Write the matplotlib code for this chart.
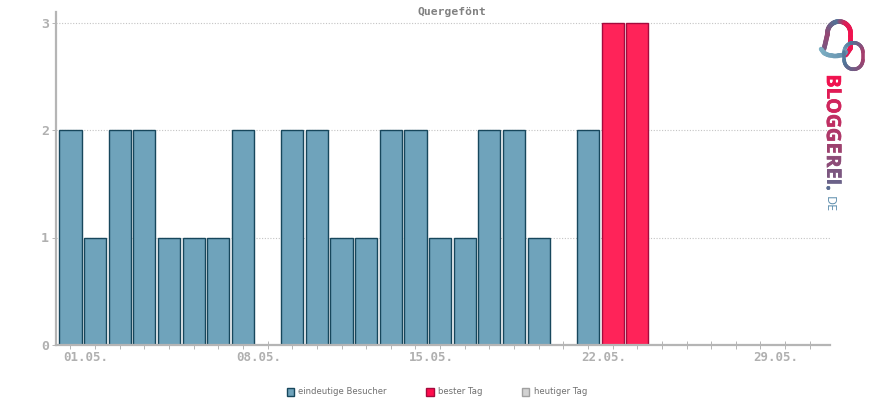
import matplotlib
matplotlib.use('Agg')
import matplotlib.pyplot as plt
import matplotlib.patheffects as pe
import numpy as np
from matplotlib.collections import LineCollection
from matplotlib.colors import LinearSegmentedColormap
from matplotlib.patches import Patch

W, H = 870, 400
title = 'Quergefönt'
days = list(range(31))
tick_labels = ['01.05.', '08.05.', '15.05.', '22.05.', '29.05.']
tick_label_days = [0, 7, 14, 21, 28]
visitors = [2, 1, 2, 2, 1, 1, 1, 2, 0, 2, 2, 1, 1, 2, 2, 1, 1, 2, 2, 1, 0, 2, 0, 0,
            0, 0, 0, 0, 0, 0, 0]
best_day = [0] * 22 + [3, 3] + [0] * 7
y_ticks = [0, 1, 2, 3]
legend_labels = ['eindeutige Besucher', 'bester Tag', 'heutiger Tag']

GRAY = '#b5b5b5'
TXT = '#b0b0b0'
fig = plt.figure(figsize=(W / 100, H / 100), dpi=100, facecolor='white')
L, R, T, B = 56, 830, 12, 345
ax = fig.add_axes([L / W, 1 - B / H, (R - L) / W, (B - T) / H])
ax.set_xlim(-0.585, 30.82)
ax.set_ylim(0, (B - T) / 107.5)

vis = np.array(visitors)
best = np.array(best_day)
d = np.array(days)
ax.bar(d[vis > 0], vis[vis > 0], width=0.9, color='#6fa3bb', edgecolor='#17475c', linewidth=1.0, zorder=2)
ax.bar(d[best > 0], best[best > 0], width=0.9, color='#ff2359', edgecolor='#a50a3d', linewidth=1.0, zorder=2)

ax.set_yticks(y_ticks)
ax.set_yticklabels([str(v) for v in y_ticks], family='DejaVu Sans Mono', fontsize=9.5, color=TXT, fontweight='bold')
ax.set_xticks(days)
ax.set_xticklabels([])
ax.grid(axis='y', linestyle=(0, (1, 1.5)), color='#c4c4c4', linewidth=0.8, zorder=1)
ax.set_axisbelow(True)
for s in ['top', 'right']:
    ax.spines[s].set_visible(False)
for s in ['left', 'bottom']:
    ax.spines[s].set_color(GRAY)
    ax.spines[s].set_linewidth(1.6)
    ax.spines[s].set_zorder(3)
ax.tick_params(axis='x', direction='inout', length=6, width=0.7, color=GRAY)
ax.tick_params(axis='y', direction='out', length=3, width=0.7, color=GRAY, pad=2)

for day, lab in zip(tick_label_days, tick_labels):
    ax.annotate(lab, xy=(day, 0), xycoords=('data', 'axes fraction'), xytext=(15.5 * 0.72, -11.5),
                textcoords='offset points', ha='center', va='baseline',
                family='DejaVu Sans Mono', fontsize=9, color=TXT, fontweight='bold')

fig.text(451.5 / W, 1 - 12 / H, title, ha='center', va='center',
         family='DejaVu Sans Mono', fontsize=8.2, color='#808080', fontweight='bold')

handles = [Patch(facecolor='#6fa3bb', edgecolor='#17475c', linewidth=1.0),
           Patch(facecolor='#ff0d4d', edgecolor='#a50a3d', linewidth=1.0),
           Patch(facecolor='#d2d2d2', edgecolor='#a0a0a0', linewidth=1.0)]
fig.legend(handles, legend_labels, ncol=3, loc='center', bbox_to_anchor=(437 / W, 1 - 392 / H),
           frameon=False, fontsize=6.1, labelcolor='#707070', handlelength=0.85, handleheight=1.1,
           handletextpad=0.55, columnspacing=4.65, borderpad=0, borderaxespad=0)

# Decorative site logo, drawn in pixel coordinates of the figure
ov = fig.add_axes([0, 0, 1, 1], facecolor='none')
ov.set_xlim(0, W)
ov.set_ylim(H, 0)
ov.axis('off')
ov.set_zorder(5)
grad = LinearSegmentedColormap.from_list('g', ['#f0124f', '#a0406e', '#4f7397', '#7fb2c6'])


def grad_line(xs, ys, ts, lw):
    xs, ys, ts = map(np.asarray, (xs, ys, ts))
    seg = np.stack([np.c_[xs[:-1], ys[:-1]], np.c_[xs[1:], ys[1:]]], axis=1)
    ov.add_collection(LineCollection(seg, cmap=grad, array=ts[:-1], linewidth=lw, capstyle='round', clim=(0, 1)))


# bell: arch plus foot
a = np.linspace(np.pi, 2 * np.pi, 40)
bx = np.r_[np.linspace(824, 827.5, 12), 839 + 11.5 * np.cos(a), np.linspace(850.5, 850.5, 10), np.linspace(850, 846, 5)]
by = np.r_[np.linspace(49, 34, 12), 33 + 11.5 * np.sin(a), np.linspace(33, 48, 10), np.linspace(49, 55, 5)]
bt = np.r_[np.linspace(0.5, 0.38, 12), np.interp(np.linspace(0, 1, 40), [0, 0.45, 0.7, 1], [0.38, 0.66, 0.1, 0]),
           np.zeros(10), np.linspace(0, 0.1, 5)]
grad_line(bx, by, bt, 3.4)
fx = np.array([821, 824, 828, 832, 838, 843, 846])
fy = np.array([49, 53, 55, 55.5, 55.5, 55, 52])
ix = np.linspace(0, 6, 30)
grad_line(np.interp(ix, np.arange(7), fx), np.interp(ix, np.arange(7), fy), np.linspace(1, 0.82, 30), 3.2)
# ring: stadium outline
a2 = np.linspace(np.pi, 2 * np.pi, 30)
rx = np.r_[853.5 + 9.3 * np.cos(a2), 853.5 + 9.3 * np.cos(a2 - np.pi), 844.2]
ry = np.r_[52 + 9.3 * np.sin(a2), 60 + 9.3 * np.sin(a2 - np.pi), 52]
rt = np.r_[np.linspace(0.95, 0.32, 30), np.linspace(0.32, 0.7, 30), 0.95]
grad_line(rx, ry, rt, 2.6)

letters = ['B', 'L', 'O', 'G', 'G', 'E', 'R', 'E', 'I', '.']
letter_y = [81, 93, 106, 121, 135, 148, 161, 173, 181.5, 188]
for i, (ch, y) in enumerate(zip(letters, letter_y)):
    c = grad(i / 9 * 0.62)
    ov.text(832, y, ch, rotation=-90, ha='center', va='center', fontsize=14, fontweight='bold',
            family='Open Sans', color=c, path_effects=[pe.withStroke(linewidth=0.5, foreground=c)])
ov.text(829, 204.5, 'DE', rotation=-90, ha='center', va='center', fontsize=9, family='Open Sans', color='#5f8fae')

fig.savefig('out.png', dpi=100, facecolor='white')
